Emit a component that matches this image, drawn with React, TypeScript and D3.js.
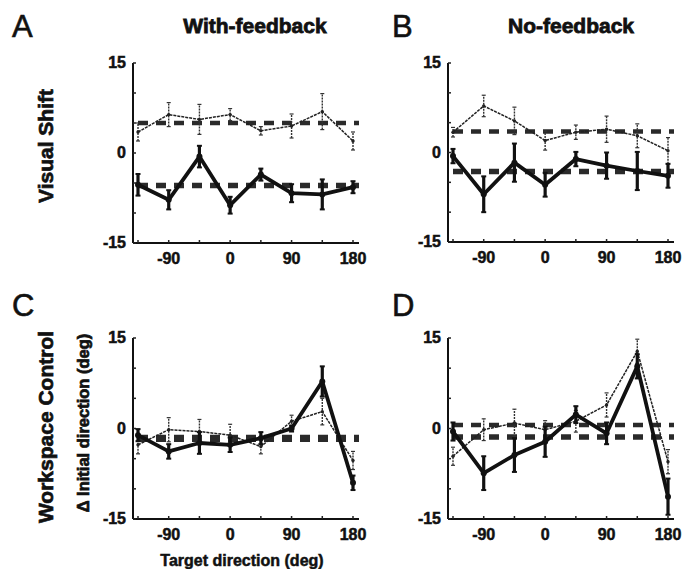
import * as d3 from "d3";
import React, { useEffect, useRef } from "react";

// target directions (deg)
const directions = [-135, -90, -45, 0, 45, 90, 135, 180];
const xTickLabels = [-90, 0, 90, 180];
const yTickLabels = [15, 0, -15];

// panel A: visual shift, with feedback
const aThin = [3.5, 6.4, 5.6, 6.4, 3.7, 4.5, 6.9, 2.0];
const aThinErr = [1.5, 2.0, 2.5, 1.0, 0.7, 2.0, 3.0, 1.5];
const aThick = [-5.3, -7.8, -0.6, -8.7, -3.6, -6.7, -6.9, -5.7];
const aThickErr = [1.8, 1.6, 1.8, 1.4, 1.0, 1.5, 2.5, 1.0];
const aMeans = [5.0, -5.4];

// panel B: visual shift, no feedback
const bThin = [3.4, 7.8, 5.3, 2.0, 3.4, 3.9, 2.8, 0.3];
const bThinErr = [0.8, 1.8, 2.3, 1.6, 1.2, 2.2, 2.0, 2.2];
const bThick = [-0.6, -7.0, -1.7, -5.4, -1.1, -2.2, -3.1, -3.9];
const bThickErr = [1.2, 3.0, 3.2, 2.0, 1.2, 2.2, 3.2, 2.0];
const bMeans = [3.5, -3.2];

// panel C: workspace control, with feedback
const cThin = [-2.7, -0.2, -0.5, -1.1, -3.0, 1.2, 2.8, -5.3];
const cThinErr = [1.5, 2.0, 2.0, 1.8, 1.2, 1.0, 2.2, 1.5];
const cThick = [-1.1, -3.8, -2.4, -2.7, -1.6, 0.0, 7.8, -9.0];
const cThickErr = [1.0, 1.2, 1.8, 1.2, 1.0, 0.5, 2.5, 1.2];
const cMeans = [-1.4, -1.8];

// panel D: workspace control, no feedback
const dThin = [-4.6, -0.2, 0.9, -0.2, 1.2, 3.9, 12.8, -5.5];
const dThinErr = [1.5, 1.8, 2.3, 1.5, 1.8, 2.0, 2.0, 2.0];
const dThick = [-0.5, -7.4, -4.4, -2.2, 2.3, -0.8, 10.3, -11.3];
const dThickErr = [1.5, 2.8, 2.8, 2.5, 1.4, 1.8, 2.0, 3.0];
const dMeans = [0.6, -1.4];

const FONT = "'Liberation Sans', Arial, sans-serif";

// bold text, a bit heavier like the scanned figure
function heavy(sel, size) {
  return sel
    .attr("font-family", FONT)
    .attr("font-weight", "bold")
    .attr("font-size", size)
    .attr("fill", "#111")
    .attr("stroke", "#111")
    .attr("stroke-width", 0.5);
}

function drawPanel(svg, opts) {
  const { x0, x1, yTop, yBot, thin, thinErr, thick, thickErr, means } = opts;
  const g = svg.append("g");
  const xScale = d3.scaleLinear().domain([-135, 180]).range([x0, x1]);
  const yScale = d3.scaleLinear().domain([-15, 15]).range([yBot, yTop]);
  const axisLeftX = x0 - 5;
  const axisRightX = x1 + 6;

  // axes lines
  g.append("line")
    .attr("x1", axisLeftX).attr("x2", axisLeftX)
    .attr("y1", yTop).attr("y2", yBot)
    .attr("stroke", "#111").attr("stroke-width", 2);
  g.append("line")
    .attr("x1", axisLeftX).attr("x2", axisRightX)
    .attr("y1", yBot).attr("y2", yBot)
    .attr("stroke", "#111").attr("stroke-width", 2);

  // small inward ticks
  g.selectAll(".yt")
    .data(d3.range(-15, 16, 5))
    .join("line")
    .attr("x1", axisLeftX).attr("x2", axisLeftX + 3)
    .attr("y1", (d) => yScale(d)).attr("y2", (d) => yScale(d))
    .attr("stroke", "#222").attr("stroke-width", 1.5);
  g.selectAll(".xt")
    .data(directions)
    .join("line")
    .attr("x1", (d) => xScale(d)).attr("x2", (d) => xScale(d))
    .attr("y1", yBot).attr("y2", yBot - 3)
    .attr("stroke", "#222").attr("stroke-width", 1.5);

  // tick labels
  heavy(
    g.selectAll(".yl")
      .data(yTickLabels)
      .join("text")
      .attr("x", axisLeftX - 7)
      .attr("y", (d) => yScale(d) + 5)
      .attr("text-anchor", "end")
      .text((d) => d),
    16
  );
  heavy(
    g.selectAll(".xl")
      .data(xTickLabels)
      .join("text")
      .attr("x", (d) => xScale(d))
      .attr("y", yBot + 21)
      .attr("text-anchor", "middle")
      .text((d) => d),
    16
  );

  // mean dashed lines
  g.selectAll(".mean")
    .data(means)
    .join("line")
    .attr("x1", xScale(-135)).attr("x2", axisRightX)
    .attr("y1", (d) => yScale(d)).attr("y2", (d) => yScale(d))
    .attr("stroke", "#2a2a2a")
    .attr("stroke-width", (d, i) => (i === 0 ? 4.5 : 5.5))
    .attr("stroke-dasharray", "10,8");

  const line = d3
    .line()
    .x((d, i) => xScale(directions[i]))
    .y((d) => yScale(d));

  // thin series
  const thinG = g.append("g");
  thinG.selectAll("line")
    .data(thin)
    .join("line")
    .attr("x1", (d, i) => xScale(directions[i]))
    .attr("x2", (d, i) => xScale(directions[i]))
    .attr("y1", (d, i) => yScale(d - thinErr[i]))
    .attr("y2", (d, i) => yScale(d + thinErr[i]))
    .attr("stroke", "#333").attr("stroke-width", 1.4)
    .attr("stroke-dasharray", "2,1");
  thinG.selectAll(".cap")
    .data(thin.flatMap((d, i) => [
      { x: directions[i], y: d - thinErr[i] },
      { x: directions[i], y: d + thinErr[i] },
    ]))
    .join("line")
    .attr("x1", (d) => xScale(d.x) - 2).attr("x2", (d) => xScale(d.x) + 2)
    .attr("y1", (d) => yScale(d.y)).attr("y2", (d) => yScale(d.y))
    .attr("stroke", "#333").attr("stroke-width", 1.2);
  thinG.append("path")
    .attr("d", line(thin))
    .attr("fill", "none")
    .attr("stroke", "#222")
    .attr("stroke-width", 1.5)
    .attr("stroke-dasharray", "3,1");
  thinG.selectAll("circle")
    .data(thin)
    .join("circle")
    .attr("cx", (d, i) => xScale(directions[i]))
    .attr("cy", (d) => yScale(d))
    .attr("r", 1.7)
    .attr("fill", "#222");

  // thick series
  const thickG = g.append("g");
  thickG.selectAll("line")
    .data(thick)
    .join("line")
    .attr("x1", (d, i) => xScale(directions[i]))
    .attr("x2", (d, i) => xScale(directions[i]))
    .attr("y1", (d, i) => yScale(d - thickErr[i]))
    .attr("y2", (d, i) => yScale(d + thickErr[i]))
    .attr("stroke", "#111").attr("stroke-width", 3.2);
  thickG.selectAll(".cap")
    .data(thick.flatMap((d, i) => [
      { x: directions[i], y: d - thickErr[i] },
      { x: directions[i], y: d + thickErr[i] },
    ]))
    .join("line")
    .attr("x1", (d) => xScale(d.x) - 2.5).attr("x2", (d) => xScale(d.x) + 2.5)
    .attr("y1", (d) => yScale(d.y)).attr("y2", (d) => yScale(d.y))
    .attr("stroke", "#111").attr("stroke-width", 2);
  thickG.append("path")
    .attr("d", line(thick))
    .attr("fill", "none")
    .attr("stroke", "#111")
    .attr("stroke-width", 3.8)
    .attr("stroke-linejoin", "round");
  thickG.selectAll("circle")
    .data(thick)
    .join("circle")
    .attr("cx", (d, i) => xScale(directions[i]))
    .attr("cy", (d) => yScale(d))
    .attr("r", 3)
    .attr("fill", "#111");
}

export default function App() {
  const svgRef = useRef(null);
  useEffect(() => {
    const width = 691;
    const height = 569;
    const svg = d3
      .select(svgRef.current)
      .attr("width", width)
      .attr("height", height)
      .style("background", "#fff");
    svg.selectAll("*").remove();

    drawPanel(svg, { x0: 138, x1: 353, yTop: 63, yBot: 243, thin: aThin, thinErr: aThinErr, thick: aThick, thickErr: aThickErr, means: aMeans });
    drawPanel(svg, { x0: 453, x1: 668, yTop: 63, yBot: 242, thin: bThin, thinErr: bThinErr, thick: bThick, thickErr: bThickErr, means: bMeans });
    drawPanel(svg, { x0: 138, x1: 353, yTop: 338, yBot: 519, thin: cThin, thinErr: cThinErr, thick: cThick, thickErr: cThickErr, means: cMeans });
    drawPanel(svg, { x0: 453, x1: 668, yTop: 338, yBot: 519, thin: dThin, thinErr: dThinErr, thick: dThick, thickErr: dThickErr, means: dMeans });

    // panel letters
    const letters = [
      { t: "A", x: 12, y: 37 },
      { t: "B", x: 392, y: 37 },
      { t: "C", x: 12, y: 316 },
      { t: "D", x: 392, y: 316 },
    ];
    svg.selectAll(".letter")
      .data(letters)
      .join("text")
      .attr("x", (d) => d.x).attr("y", (d) => d.y)
      .attr("font-family", FONT)
      .attr("font-size", 31)
      .attr("fill", "#111")
      .attr("stroke", "#111")
      .attr("stroke-width", 0.6)
      .text((d) => d.t);

    // column titles
    const titles = [
      { t: "With-feedback", x: 255 },
      { t: "No-feedback", x: 571 },
    ];
    heavy(
      svg.selectAll(".title")
        .data(titles)
        .join("text")
        .attr("x", (d) => d.x).attr("y", 33)
        .attr("text-anchor", "middle")
        .text((d) => d.t),
      21
    ).attr("stroke-width", 0.8);

    // row labels
    const rows = [
      { t: "Visual Shift", x: 53, y: 146, size: 21 },
      { t: "Workspace Control", x: 53, y: 427, size: 21 },
      { t: "\u0394 Initial direction (deg)", x: 89, y: 423, size: 16.5 },
    ];
    heavy(
      svg.selectAll(".row")
        .data(rows)
        .join("text")
        .attr("transform", (d) => `translate(${d.x},${d.y}) rotate(-90)`)
        .attr("text-anchor", "middle")
        .text((d) => d.t),
      21
    ).attr("font-size", (d) => d.size).attr("stroke-width", 0.7);

    heavy(
      svg.append("text")
        .attr("x", 242).attr("y", 566)
        .attr("text-anchor", "middle")
        .text("Target direction (deg)"),
      16
    );
  }, []);

  return <svg ref={svgRef} style={{ position: "absolute", left: 0, top: 0 }}></svg>;
}
